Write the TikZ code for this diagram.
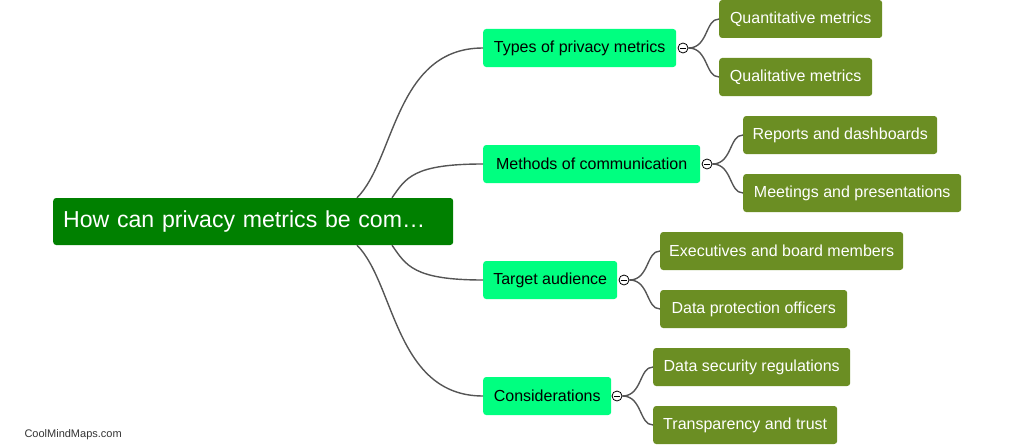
\documentclass[tikz,border=0pt]{standalone}
\usepackage{fontspec}
\setmainfont{Liberation Sans}
\usetikzlibrary{positioning}
\definecolor{rootgreen}{HTML}{008000}
\definecolor{midgreen}{HTML}{00FF80}
\definecolor{leafolive}{HTML}{6B8E23}
\definecolor{linkgray}{HTML}{555555}

\begin{document}
\begin{tikzpicture}[x=1pt,y=-1pt,
    rootbox/.style={fill=rootgreen, text=white, rounded corners=3pt, anchor=west,
      minimum height=47pt, inner ysep=0pt, inner xsep=10pt, text width=380pt, align=left,
      font=\fontsize{23.1}{27}\selectfont},
    midbox/.style={fill=midgreen, text=black, rounded corners=3pt, anchor=west,
      minimum height=38pt, inner sep=0pt, font=\fontsize{16}{19}\selectfont},
    leafbox/.style={fill=leafolive, text=white, rounded corners=3pt, anchor=west,
      minimum height=38pt, inner sep=0pt, font=\fontsize{16}{19}\selectfont},
    toggle/.style={circle, draw=black, fill=white, line width=0.8pt, minimum size=10pt, inner sep=0pt,
      path picture={\draw[line width=0.8pt] ([xshift=-3pt]path picture bounding box.center) -- ([xshift=3pt]path picture bounding box.center);}},
    link/.style={draw=linkgray, line width=1.4pt}
  ]
        \useasboundingbox (0,0) rectangle (1027,444);

        % Root
        \node[rootbox] (root) at (53,221.5) {How can privacy metrics be com…};

        % Main branches
        \node[midbox, minimum width=193pt] (types) at (483,48) {Types of privacy metrics};
        \node[midbox, minimum width=217pt] (methods) at (483,164) {Methods of communication};
        \node[midbox, minimum width=134pt] (audience) at (483,280) {Target audience};
        \node[midbox, minimum width=128pt] (consid) at (483,396) {Considerations};

        % Leaves
        \node[leafbox, minimum width=163pt] (quant) at (719,19) {Quantitative metrics};
        \node[leafbox, minimum width=153pt] (qual) at (719,77) {Qualitative metrics};
        \node[leafbox, minimum width=194pt] (reports) at (743,135) {Reports and dashboards};
        \node[leafbox, minimum width=218pt] (meetings) at (743,193) {Meetings and presentations};
        \node[leafbox, minimum width=243pt] (execs) at (660,251) {Executives and board members};
        \node[leafbox, minimum width=187pt] (dpo) at (660,309) {Data protection officers};
        \node[leafbox, minimum width=197pt] (regs) at (653,367) {Data security regulations};
        \node[leafbox, minimum width=184pt] (trust) at (653,425) {Transparency and trust};

        % Collapse toggles
        \node[toggle] (ttypes) at (683,48) {};
        \node[toggle] (tmethods) at (707,164) {};
        \node[toggle] (taudience) at (624,280) {};
        \node[toggle] (tconsid) at (617,396) {};

        % Root links
        \coordinate (r1) at ([xshift=304pt]root.north west);
        \coordinate (r2) at ([xshift=339pt]root.north west);
        \coordinate (r3) at ([xshift=339pt]root.south west);
        \coordinate (r4) at ([xshift=304pt]root.south west);
        \draw[link] (r1) .. controls +(38,-38) and +(-88,0) .. (types.west);
        \draw[link] (r2) .. controls +(14,-20) and +(-70,0) .. (methods.west);
        \draw[link] (r3) .. controls +(14,20) and +(-70,0) .. (audience.west);
        \draw[link] (r4) .. controls +(38,38) and +(-88,0) .. (consid.west);

        % Leaf links
        \foreach \t/\a/\b in {ttypes/quant/qual, tmethods/reports/meetings,
                              taudience/execs/dpo, tconsid/regs/trust} {
            \draw[link] (\t.east) .. controls +(20,0) and +(-14,0) .. (\a.west);
            \draw[link] (\t.east) .. controls +(20,0) and +(-14,0) .. (\b.west);
        }

        % Watermark
        \node[anchor=west, text=black!80, font=\fontsize{11}{13}\selectfont] (mark) at (21,435) {CoolMindMaps.com};
    \end{tikzpicture}
\end{document}
